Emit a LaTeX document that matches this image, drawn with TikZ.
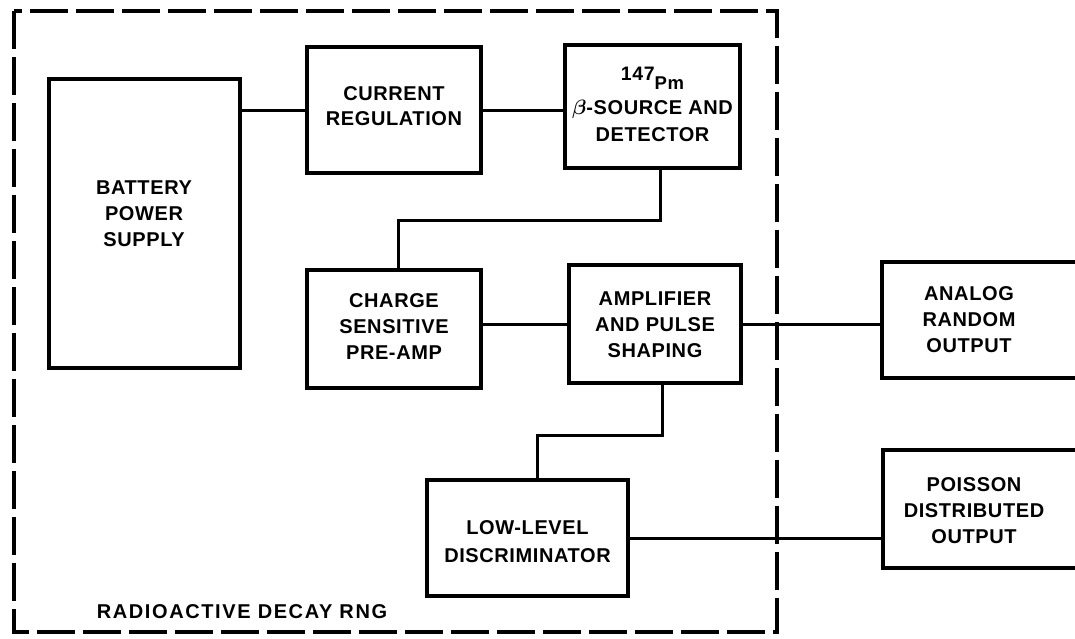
\documentclass[tikz,border=0pt]{standalone}
\usepackage{fontspec}
\usepackage{bm}
\newfontfamily\lbl[LetterSpace=3]{Liberation Sans Bold}
\newfontfamily\lblw[LetterSpace=8]{Liberation Sans Bold}
\begin{document}
\begin{tikzpicture}[x=1pt,y=-1pt,
  blk/.style={draw, line width=4.5pt, rectangle, inner sep=0pt},
  txt/.style={inner sep=0pt, align=center, font={\lbl\fontsize{20}{26}\selectfont}},
  wire/.style={line width=3pt},
  frame/.style={line width=4pt, dash pattern=on 38pt off 8pt}]
\useasboundingbox (0,0) rectangle (1075,638);
\begin{scope}
\clip (0,0) rectangle (1075,638);
\draw[frame] (14,11) rectangle (777,632);
\node[blk, minimum width=191pt, minimum height=289pt] (battery) at (144.5,223.5) {};
\node[txt] (batterytxt) at (144,214) {BATTERY\\POWER\\SUPPLY};
\node[blk, minimum width=174pt, minimum height=126pt] (current) at (394,110) {};
\node[txt, font={\lbl\fontsize{20}{25}\selectfont}] (currenttxt) at (394,106) {CURRENT\\REGULATION};
\node[blk, minimum width=175pt, minimum height=123pt] (pm) at (652.5,106.5) {};
\node[txt, font={\lbl\fontsize{20}{27}\selectfont}] (pmtxt) at (652.5,104) {{\fontsize{19.5}{19.5}\selectfont\raisebox{9pt}{147}}{\fontsize{18.5}{18.5}\selectfont Pm}\\[-2pt]$\bm{\beta}$-SOURCE AND\\DETECTOR};
\node[blk, minimum width=174pt, minimum height=118pt] (charge) at (394,329) {};
\node[txt] (chargetxt) at (394,326.5) {CHARGE\\SENSITIVE\\PRE-AMP};
\node[blk, minimum width=172pt, minimum height=118pt] (amp) at (655,324) {};
\node[txt] (amptxt) at (655,324.5) {AMPLIFIER\\AND PULSE\\SHAPING};
\node[blk, minimum width=201pt, minimum height=116pt] (lld) at (527.5,538) {};
\node[txt, font={\lbl\fontsize{20}{28}\selectfont}] (lldtxt) at (527.5,542) {LOW-LEVEL\\DISCRIMINATOR};
\node[blk, minimum width=218pt, minimum height=116pt] (analog) at (991,320) {};
\node[blk, minimum width=218pt, minimum height=118pt] (poisson) at (992,509) {};
\node[txt] (analogtxt) at (969,320) {ANALOG\\RANDOM\\OUTPUT};
\node[txt] (poissontxt) at (974,511) {POISSON\\DISTRIBUTED\\OUTPUT};
\node[inner sep=0pt, font={\lblw\fontsize{20}{22}\selectfont}] (rnglabel) at (242,612) {RADIOACTIVE DECAY RNG};
\draw[wire] (current.west) -- (current.west -| battery.east);
\draw[wire] (current.east) -- (current.east -| pm.west);
\draw[wire] ([xshift=8pt]pm.south) -- ++(0,50) -| ([xshift=4pt]charge.north);
\draw[wire] (amp.west) -- (amp.west -| charge.east);
\draw[wire] (amp.east) -- (amp.east -| analog.west);
\draw[wire] ([xshift=7pt]amp.south) -- ++(0,50) -| ([xshift=10pt]lld.north);
\draw[wire] (lld.east) -- (lld.east -| poisson.west);
\end{scope}
\end{tikzpicture}
\end{document}
